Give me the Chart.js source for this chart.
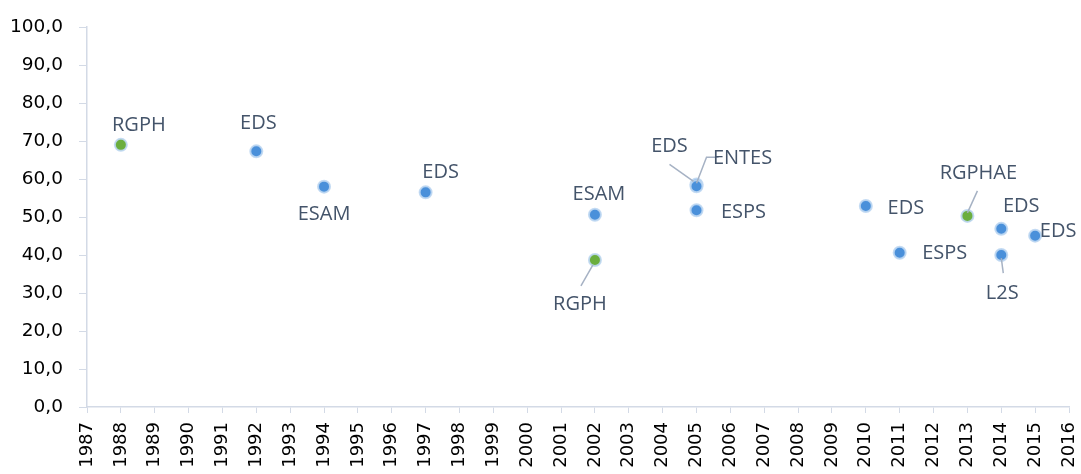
<!DOCTYPE html>
<html>
<head>
<meta charset="utf-8">
<script src="https://cdn.jsdelivr.net/npm/chart.js@4"></script>
<style>
  body { margin: 0; background: #fff; }
  #wrap { width: 1081px; height: 474px; }
</style>
</head>
<body>
<div id="wrap"><canvas id="chart"></canvas></div>
<script>
// enquetes EDS / ESAM / ESPS ... (blue)
var blueYears  = [1992, 1994, 1997, 2002, 2005, 2005, 2005, 2010, 2011, 2014, 2014, 2015];
var blueValues = [67.3, 58.0, 56.5, 50.6, 58.6, 58.1, 51.8, 52.9, 40.6, 46.9, 40.0, 45.1];
var blueLabels = ["EDS", "ESAM", "EDS", "ESAM", "EDS", "ENTES", "ESPS", "EDS", "ESPS", "EDS", "L2S", "EDS"];

// recensements RGPH (green)
var greenYears  = [1988, 2002, 2013];
var greenValues = [69.0, 38.7, 50.3];
var greenLabels = ["RGPH", "RGPH", "RGPHAE"];

var yTicks = [0, 10, 20, 30, 40, 50, 60, 70, 80, 90, 100];

// where each label sits relative to its point (px), and optional leader line
var bluePlace = [
  {dx: 2, dy: -28},
  {dx: 0, dy: 28},
  {dx: 15, dy: -20},
  {dx: 4, dy: -20},
  {dx: -27, dy: -38, line: [[-3, -3], [-27, -20]]},
  {dx: 46, dy: -28, line: [[0, -3], [10, -29], [22, -29]]},
  {dx: 47, dy: 2},
  {dx: 40, dy: 2},
  {dx: 45, dy: 1},
  {dx: 20, dy: -23},
  {dx: 1, dy: 38, line: [[0, 3], [2, 18]]},
  {dx: 23, dy: -4}
];
var greenPlace = [
  {dx: 18, dy: -20},
  {dx: -15, dy: 44, line: [[-2, 5], [-14, 26]]},
  {dx: 11, dy: -43, line: [[0, -3], [10, -25]]}
];

function points(xs, ys) {
  var out = [];
  for (var i = 0; i < xs.length; i++) out.push({x: xs[i], y: ys[i]});
  return out;
}

var labelPlugin = {
  id: 'pointLabels',
  afterDatasetsDraw: function(chart) {
    var ctx = chart.ctx;
    var sets = [[blueLabels, bluePlace], [greenLabels, greenPlace]];
    ctx.save();
    sets.forEach(function(s, di) {
      var meta = chart.getDatasetMeta(di);
      meta.data.forEach(function(pt, i) {
        var p = s[1][i];
        if (p.line) {
          ctx.beginPath();
          ctx.strokeStyle = '#A6B2C4';
          ctx.lineWidth = 1.5;
          p.line.forEach(function(q, k) {
            if (k == 0) ctx.moveTo(pt.x + q[0], pt.y + q[1]);
            else ctx.lineTo(pt.x + q[0], pt.y + q[1]);
          });
          ctx.stroke();
        }
        ctx.fillStyle = '#44546A';
        ctx.font = '20px "Open Sans"';
        ctx.textAlign = 'center';
        ctx.textBaseline = 'middle';
        ctx.fillText(s[0][i], pt.x + p.dx, pt.y + p.dy);
      });
    });
    ctx.restore();
  }
};

var ctx = document.getElementById('chart').getContext('2d');
var chart = new Chart(ctx, {
  type: 'scatter',
  data: {
    datasets: [{
      label: 'Enquêtes',
      data: points(blueYears, blueValues),
      backgroundColor: '#4A90DA',
      borderColor: 'rgba(190,215,242,0.9)',
      borderWidth: 2,
      pointRadius: 6,
      pointHoverRadius: 6
    }, {
      label: 'Recensements',
      data: points(greenYears, greenValues),
      backgroundColor: '#6BAE3E',
      borderColor: 'rgba(190,215,242,0.9)',
      borderWidth: 2,
      pointRadius: 6,
      pointHoverRadius: 6
    }]
  },
  options: {
    responsive: true,
    maintainAspectRatio: false,
    animation: false,
    layout: { padding: { top: 12, right: 0, left: 0, bottom: 0 } },
    plugins: {
      legend: { display: false },
      tooltip: { enabled: false }
    },
    scales: {
      x: {
        type: 'linear',
        min: 1987,
        max: 2016,
        afterFit: function(scale) {
          scale.height = 67;
          scale.paddingRight = 12;
          scale.paddingLeft = 0;
        },
        grid: {
          drawOnChartArea: false,
          drawTicks: true,
          tickLength: 6,
          color: '#D3DAE6'
        },
        border: { color: '#D3DAE6', width: 1.5 },
        ticks: {
          stepSize: 1,
          autoSkip: false,
          minRotation: 90,
          maxRotation: 90,
          padding: 9,
          color: '#000',
          font: { size: 18, family: 'DejaVu Sans' },
          callback: function(v) { return String(v); }
        }
      },
      y: {
        min: 0,
        max: 100,
        afterFit: function(scale) { scale.width = 87; },
        afterBuildTicks: function(scale) {
          scale.ticks = yTicks.map(function(v) { return {value: v}; });
        },
        grid: {
          drawOnChartArea: false,
          drawTicks: true,
          tickLength: 8,
          color: '#D3DAE6'
        },
        border: { color: '#D3DAE6', width: 1.5 },
        ticks: {
          padding: 16,
          color: '#000',
          font: { size: 18.5, family: 'DejaVu Sans' },
          callback: function(v) { return v.toFixed(1).replace('.', ','); }
        }
      }
    }
  },
  plugins: [labelPlugin]
});

// redraw once the label font is really available to the canvas
document.fonts.load('20px "Open Sans"').then(function() { chart.update(); });
</script>
</body>
</html>
